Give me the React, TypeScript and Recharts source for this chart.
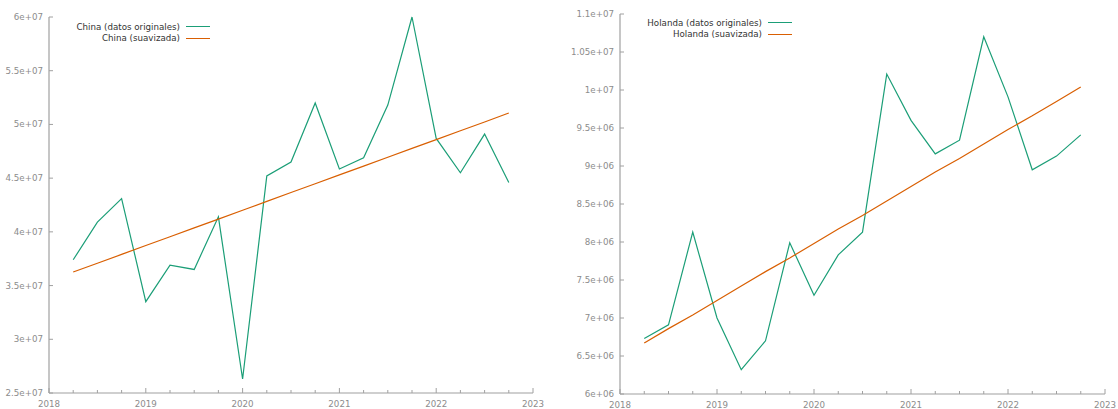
import { LineChart, Line, XAxis, YAxis, Legend } from "recharts";

// quarterly observations, decimal years
const QUARTERS = [
    2018.25, 2018.5, 2018.75, 2019, 2019.25, 2019.5, 2019.75, 2020, 2020.25, 2020.5,
    2020.75, 2021, 2021.25, 2021.5, 2021.75, 2022, 2022.25, 2022.5, 2022.75,
];

const CHINA_ORIGINAL = [
    37.4e6, 40.9e6, 43.1e6, 33.5e6, 36.9e6, 36.5e6, 41.4e6, 26.3e6, 45.2e6, 46.5e6,
    52.0e6, 45.85e6, 46.9e6, 51.8e6, 60.0e6, 48.7e6, 45.5e6, 49.1e6, 44.6e6,
];
const CHINA_SMOOTHED = [
    36.26e6, 37.08e6, 37.9e6, 38.73e6, 39.55e6, 40.37e6, 41.19e6, 42.01e6, 42.84e6, 43.66e6,
    44.48e6, 45.3e6, 46.12e6, 46.95e6, 47.77e6, 48.59e6, 49.41e6, 50.23e6, 51.06e6,
];

const HOLANDA_ORIGINAL = [
    6.73e6, 6.91e6, 8.13e6, 7.0e6, 6.32e6, 6.7e6, 7.99e6, 7.3e6, 7.83e6, 8.13e6,
    10.21e6, 9.6e6, 9.16e6, 9.34e6, 10.7e6, 9.91e6, 8.95e6, 9.13e6, 9.41e6,
];
const HOLANDA_SMOOTHED = [
    6.67e6, 6.86e6, 7.04e6, 7.23e6, 7.42e6, 7.61e6, 7.79e6, 7.98e6, 8.17e6, 8.35e6,
    8.54e6, 8.73e6, 8.92e6, 9.1e6, 9.29e6, 9.48e6, 9.66e6, 9.85e6, 10.04e6,
];

const X_TICKS = [
    2018, 2018.25, 2018.5, 2018.75, 2019, 2019.25, 2019.5, 2019.75, 2020, 2020.25, 2020.5,
    2020.75, 2021, 2021.25, 2021.5, 2021.75, 2022, 2022.25, 2022.5, 2022.75, 2023,
];
const CHINA_Y_TICKS = [2.5e7, 3e7, 3.5e7, 4e7, 4.5e7, 5e7, 5.5e7, 6e7];
const HOLANDA_Y_TICKS = [6e6, 6.5e6, 7e6, 7.5e6, 8e6, 8.5e6, 9e6, 9.5e6, 1e7, 1.05e7, 1.1e7];

const GREEN = "#1b9e77";
const ORANGE = "#d95f02";
const SERIES_COLORS = [GREEN, ORANGE];
const AXIS = "#a0a0a0";
const TICK_TEXT = "#8c8c8c";
const FONT = "'DejaVu Sans', Verdana, sans-serif";

const CHINA_ROWS = QUARTERS.map((t, i) => ({ t, original: CHINA_ORIGINAL[i], smoothed: CHINA_SMOOTHED[i] }));
const HOLANDA_ROWS = QUARTERS.map((t, i) => ({ t, original: HOLANDA_ORIGINAL[i], smoothed: HOLANDA_SMOOTHED[i] }));

// gnuplot-like exponent: 5.5e+07
const fmtExp = (v: number) => v.toExponential().replace(/e([+-])(\d)$/, "e$10$2");

function XTick(props: any) {
    const { x, y, payload } = props;
    const major = Number.isInteger(payload.value);
    return (
        <g>
            <line x1={x} x2={x} y1={y} y2={y - (major ? 5 : 3)} stroke={AXIS} strokeWidth={1} />
            {major && (
                <text x={x} y={y + 14} textAnchor="middle" fill={TICK_TEXT} fontSize={8.7} fontFamily={FONT}>
                    {payload.value}
                </text>
            )}
        </g>
    );
}

function YTick(props: any) {
    const { x, y, payload } = props;
    return (
        <g>
            <line x1={x} x2={x + 4} y1={y} y2={y} stroke={AXIS} strokeWidth={1} />
            <text x={x - 6} y={y + 3} textAnchor="end" fill={TICK_TEXT} fontSize={8.7} fontFamily={FONT}>
                {fmtExp(payload.value)}
            </text>
        </g>
    );
}

function SeriesLegend(props: any) {
    const { payload = [] } = props;
    return (
        <div style={{ display: "flex", flexDirection: "column", alignItems: "flex-end" }}>
            {payload.map((entry: any, i: number) => (
                <div
                    key={entry.value}
                    style={{
                        display: "flex",
                        alignItems: "center",
                        height: 11.5,
                        fontSize: 8.7,
                        fontFamily: FONT,
                        color: "#333",
                        whiteSpace: "nowrap",
                    }}
                >
                    <span>{entry.value}</span>
                    <span
                        style={{
                            width: 24,
                            borderTop: `1.3px solid ${entry.payload?.stroke ?? SERIES_COLORS[i]}`,
                            marginLeft: 6,
                        }}
                    />
                </div>
            ))}
        </div>
    );
}

function Panel({ rows, country, yDomain, yTicks, yWidth, margin, legendTop, legendWidth }: any) {
    return (
        <LineChart width={559} height={409} data={rows} margin={margin}>
            <XAxis
                dataKey="t"
                type="number"
                domain={[2018, 2023]}
                ticks={X_TICKS}
                interval={0}
                height={margin.xHeight}
                tickSize={0}
                tickMargin={0}
                tickLine={false}
                axisLine={{ stroke: AXIS, strokeWidth: 1.2 }}
                tick={<XTick />}
            />
            <YAxis
                type="number"
                domain={yDomain}
                ticks={yTicks}
                interval={0}
                width={yWidth}
                tickSize={0}
                tickMargin={0}
                tickLine={false}
                axisLine={{ stroke: AXIS, strokeWidth: 1.2 }}
                tick={<YTick />}
            />
            <Legend
                layout="vertical"
                verticalAlign="middle"
                align="center"
                content={<SeriesLegend />}
                wrapperStyle={{ top: legendTop, left: 0, width: legendWidth }}
            />
            <Line
                name={`${country} (datos originales)`}
                dataKey="original"
                stroke={GREEN}
                strokeWidth={1.2}
                dot={false}
                isAnimationActive={false}
            />
            <Line
                name={`${country} (suavizada)`}
                dataKey="smoothed"
                stroke={ORANGE}
                strokeWidth={1.2}
                dot={false}
                isAnimationActive={false}
            />
        </LineChart>
    );
}

export default function App() {
    return (
        <div style={{ position: "absolute", left: 0, top: 0, width: 1118, height: 409, background: "#fff" }}>
            <div style={{ position: "absolute", left: 0, top: 0 }}>
                <Panel
                    rows={CHINA_ROWS}
                    country="China"
                    yDomain={[2.5e7, 6e7]}
                    yTicks={CHINA_Y_TICKS}
                    yWidth={49}
                    margin={{ top: 17, right: 26, bottom: 0, left: 0, xHeight: 16 }}
                    legendTop={21}
                    legendWidth={210}
                />
            </div>
            <div style={{ position: "absolute", left: 559, top: 0 }}>
                <Panel
                    rows={HOLANDA_ROWS}
                    country="Holanda"
                    yDomain={[6e6, 1.1e7]}
                    yTicks={HOLANDA_Y_TICKS}
                    yWidth={61}
                    margin={{ top: 14, right: 13, bottom: 0, left: 0, xHeight: 15 }}
                    legendTop={17}
                    legendWidth={233}
                />
            </div>
        </div>
    );
}
